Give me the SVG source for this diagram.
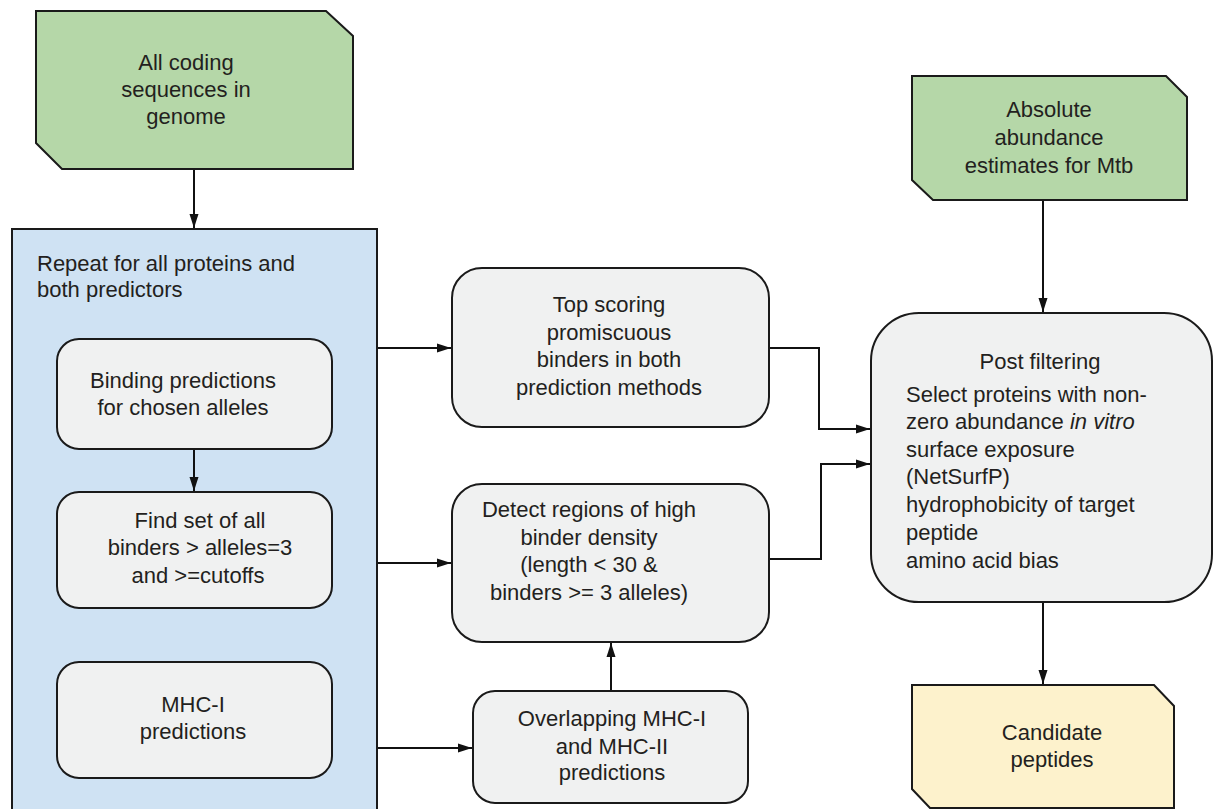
<svg xmlns="http://www.w3.org/2000/svg" width="1214" height="809" viewBox="0 0 1214 809">
<defs>
<marker id="ah" viewBox="0 0 14 10" refX="14" refY="5" markerWidth="14" markerHeight="10" markerUnits="userSpaceOnUse" orient="auto">
<path d="M0,0.5 L14,5 L0,9.5 z" fill="#111"/>
</marker>
<style>
.t{font-family:"Liberation Sans",Arial,Helvetica,sans-serif;font-size:22px;fill:#231f20}
.c{text-anchor:middle}
.sh{stroke:#1a1a1a;stroke-width:2}
.green{fill:#b5d7a8}
.blue{fill:#cfe2f3}
.gray{fill:#f0f1f1}
.yellow{fill:#fdf2cc}
.conn{fill:none;stroke:#111;stroke-width:2}
</style>
</defs>
<rect width="1214" height="809" fill="#ffffff"/>

<g id="node-coding">
<polygon class="green sh" points="36,11 326,11 353,36 353,169 62,169 36,143"/>
<text class="t c" x="186" y="70">All coding</text>
<text class="t c" x="186" y="97">sequences in</text>
<text class="t c" x="186" y="124">genome</text>
</g>

<g id="node-abundance">
<polygon class="green sh" points="912,76 1166,76 1187,97 1187,200 933,200 912,180"/>
<text class="t c" x="1049" y="117">Absolute</text>
<text class="t c" x="1049" y="145">abundance</text>
<text class="t c" x="1049" y="173">estimates for Mtb</text>
</g>

<g id="node-repeat">
<rect class="blue sh" x="12" y="229" width="365" height="600"/>
<text class="t" x="37" y="271">Repeat for all proteins and</text>
<text class="t" x="37" y="297">both predictors</text>
</g>

<g id="node-binding">
<rect class="gray sh" x="57" y="339" width="275" height="110" rx="22"/>
<text class="t c" x="183" y="388">Binding predictions</text>
<text class="t c" x="183" y="415">for chosen alleles</text>
</g>

<g id="node-findset">
<rect class="gray sh" x="57" y="492" width="275" height="116" rx="22"/>
<text class="t c" x="200" y="528">Find set of all</text>
<text class="t c" x="200" y="555">binders &gt; alleles=3</text>
<text class="t c" x="198" y="583">and &gt;=cutoffs</text>
</g>

<g id="node-mhc1">
<rect class="gray sh" x="57" y="662" width="275" height="116" rx="22"/>
<text class="t c" x="193" y="712">MHC-I</text>
<text class="t c" x="193" y="739">predictions</text>
</g>

<g id="node-topscoring">
<rect class="gray sh" x="452" y="268" width="317" height="159" rx="30"/>
<text class="t c" x="609" y="312">Top scoring</text>
<text class="t c" x="609" y="340">promiscuous</text>
<text class="t c" x="609" y="367">binders in both</text>
<text class="t c" x="609" y="395">prediction methods</text>
</g>

<g id="node-detect">
<rect class="gray sh" x="452" y="484" width="317" height="158" rx="30"/>
<text class="t c" x="589" y="517">Detect regions of high</text>
<text class="t c" x="589" y="545">binder density</text>
<text class="t c" x="589" y="572">(length &lt; 30 &amp;</text>
<text class="t c" x="589" y="600">binders &gt;= 3 alleles)</text>
</g>

<g id="node-overlap">
<rect class="gray sh" x="473" y="691" width="275" height="112" rx="22"/>
<text class="t c" x="612" y="726">Overlapping MHC-I</text>
<text class="t c" x="612" y="754">and MHC-II</text>
<text class="t c" x="612" y="780">predictions</text>
</g>

<g id="node-postfilter">
<rect class="gray sh" x="871" y="313" width="341" height="289" rx="48"/>
<text class="t c" x="1040" y="369">Post filtering</text>
<text class="t" x="906" y="402">Select proteins with non-</text>
<text class="t" x="906" y="429">zero abundance <tspan font-style="italic">in vitro</tspan></text>
<text class="t" x="906" y="457">surface exposure</text>
<text class="t" x="906" y="484">(NetSurfP)</text>
<text class="t" x="906" y="512">hydrophobicity of target</text>
<text class="t" x="906" y="540">peptide</text>
<text class="t" x="906" y="568">amino acid bias</text>
</g>

<g id="node-candidate">
<polygon class="yellow sh" points="912,685 1154,685 1174,706 1174,808 930,808 912,789"/>
<text class="t c" x="1052" y="740">Candidate</text>
<text class="t c" x="1052" y="767">peptides</text>
</g>

<g id="connectors">
<line class="conn" x1="194" y1="170" x2="194" y2="228" marker-end="url(#ah)"/>
<line class="conn" x1="1043" y1="201" x2="1043" y2="312" marker-end="url(#ah)"/>
<line class="conn" x1="194" y1="450" x2="194" y2="491" marker-end="url(#ah)"/>
<line class="conn" x1="378" y1="348" x2="451" y2="348" marker-end="url(#ah)"/>
<line class="conn" x1="378" y1="563" x2="451" y2="563" marker-end="url(#ah)"/>
<line class="conn" x1="378" y1="748" x2="472" y2="748" marker-end="url(#ah)"/>
<line class="conn" x1="611" y1="690" x2="611" y2="643" marker-end="url(#ah)"/>
<polyline class="conn" points="770,348 819,348 819,429 870,429" marker-end="url(#ah)"/>
<polyline class="conn" points="770,559 821,559 821,464 870,464" marker-end="url(#ah)"/>
<line class="conn" x1="1043" y1="603" x2="1043" y2="684" marker-end="url(#ah)"/>
</g>
</svg>
